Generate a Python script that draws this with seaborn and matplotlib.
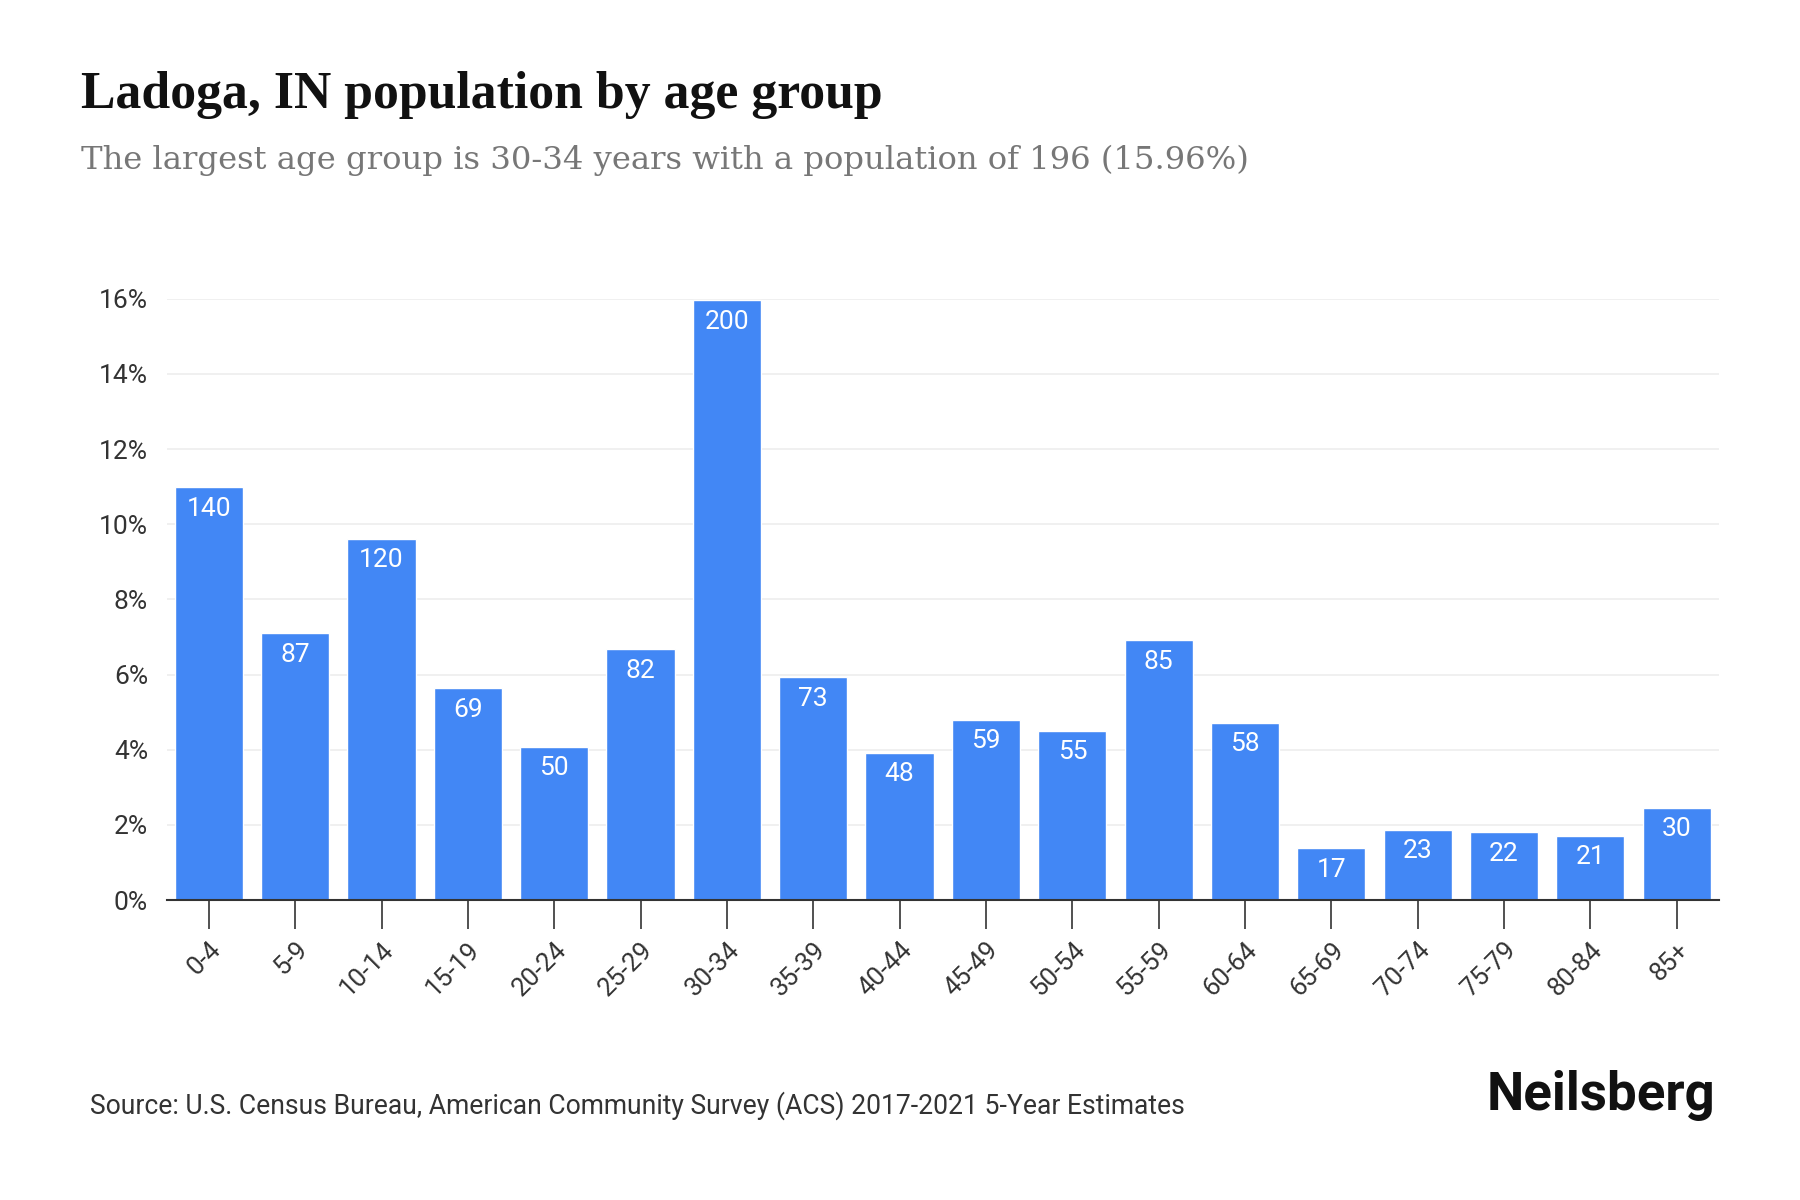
import numpy as np
import pandas as pd
import matplotlib
matplotlib.use("Agg")
import matplotlib.pyplot as plt
import seaborn as sns

# ---- data ----
age_groups = ['0-4', '5-9', '10-14', '15-19', '20-24', '25-29', '30-34', '35-39', '40-44',
              '45-49', '50-54', '55-59', '60-64', '65-69', '70-74', '75-79', '80-84', '85+']
share_pct = [10.98, 7.10, 9.61, 5.63, 4.07, 6.67, 15.96, 5.93, 3.92,
             4.80, 4.50, 6.91, 4.71, 1.38, 1.87, 1.80, 1.71, 2.45]
pop_labels = [140, 87, 120, 69, 50, 82, 200, 73, 48, 59, 55, 85, 58, 17, 23, 22, 21, 30]
y_ticks = [0, 2, 4, 6, 8, 10, 12, 14, 16]

df = pd.DataFrame({'age': age_groups, 'pct': share_pct, 'n': pop_labels})

sns.set_style("white")
plt.rcParams['font.family'] = ['Roboto', 'DejaVu Sans']

fig = plt.figure(figsize=(18, 12), dpi=100)
ax = fig.add_axes([0.093, 0.250, 0.862, 0.501])

sns.barplot(data=df, x='age', y='pct', color='#4287f5', saturation=1, width=0.79, ax=ax, zorder=3)

# bar value labels
for i, (p, n) in enumerate(zip(df['pct'], df['n'])):
    ax.text(i, p - 0.25, str(n), ha='center', va='top', color='white', fontsize=19)

ax.set_ylim(0, 16)
ax.set_xlim(-0.48, len(age_groups) - 0.51)
ax.set_yticks(y_ticks)
ax.set_yticklabels([f'{t}%' for t in y_ticks], fontsize=19, color='#333333')
ax.set_xticks(range(len(age_groups)))
ax.set_xticklabels(age_groups, rotation=45, ha='right', rotation_mode='anchor',
                   fontsize=18.5, color='#333333')
ax.tick_params(axis='x', bottom=True, length=21, width=1.2, color='#333333', pad=6)
ax.tick_params(axis='y', left=False, length=0, pad=14)
ax.grid(axis='y', color='#eeeeee', linewidth=1.2, zorder=0)
ax.set_xlabel('')
ax.set_ylabel('')
for s in ['top', 'right', 'left']:
    ax.spines[s].set_visible(False)
ax.spines['bottom'].set_color('#333333')
ax.spines['bottom'].set_linewidth(1.5)
ax.spines['bottom'].set_zorder(4)

# titles
fig.text(0.045, 0.91, 'Ladoga, IN population by age group', fontsize=37.3,
         fontweight='bold', family=['Liberation Serif'], color='#111111')
fig.text(0.045, 0.859, 'The largest age group is 30-34 years with a population of 196 (15.96%)',
         fontsize=23.2, family=['DejaVu Serif'], color='#777777')

# footer
fig.text(0.05, 0.079, 'Source: U.S. Census Bureau, American Community Survey (ACS) 2017-2021 5-Year Estimates',
         fontsize=19.1, color='#333333', va='center')
fig.text(0.953, 0.087, 'Neilsberg', fontsize=38, fontweight='bold', ha='right', va='center',
         color='#111111')

fig.savefig('out.png', dpi=100)
